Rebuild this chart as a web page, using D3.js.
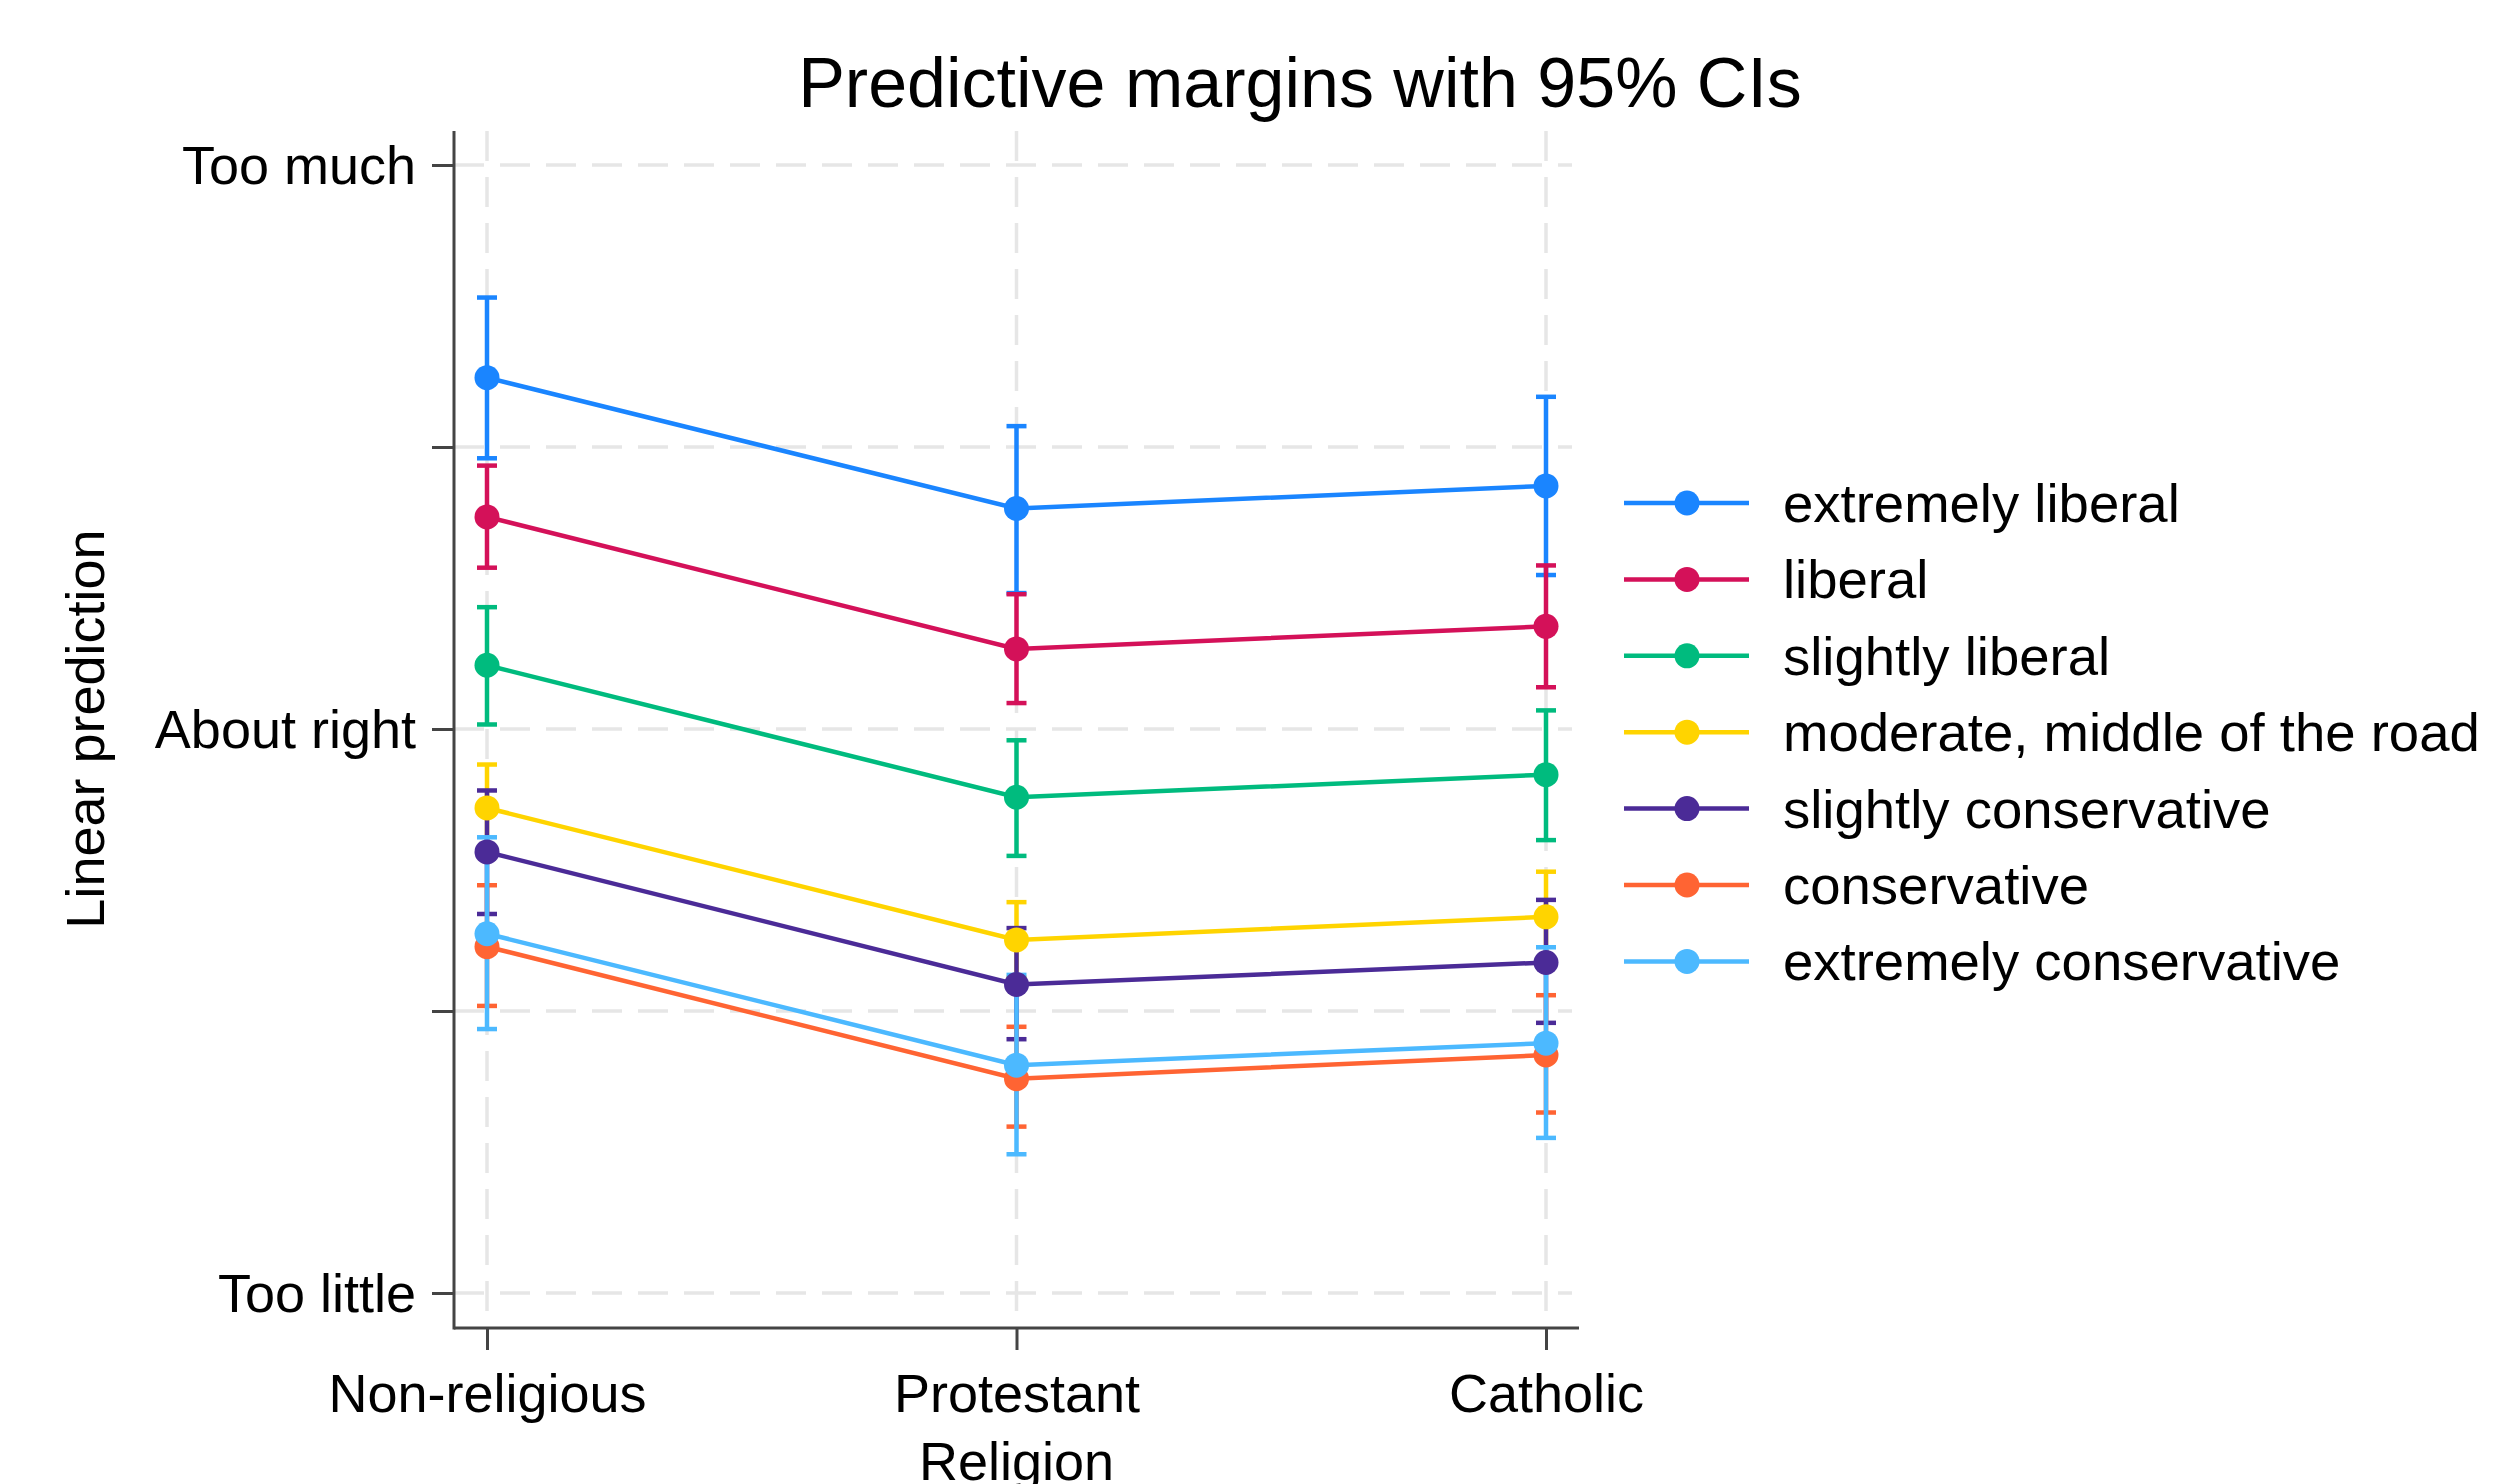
<!DOCTYPE html>
<html>
<head>
<meta charset="utf-8">
<script src="https://cdn.jsdelivr.net/npm/d3@7"></script>
<style>
  body { margin: 0; background: #fff; }
  text { font-family: "Liberation Sans", Arial, sans-serif; fill: #000; }
</style>
</head>
<body>
<div id="chart"></div>
<script>
var categories = ['Non-religious', 'Protestant', 'Catholic'];
var seriesNames = ['extremely liberal', 'liberal', 'slightly liberal', 'moderate, middle of the road',
  'slightly conservative', 'conservative', 'extremely conservative'];
var colors = ['#1a85ff', '#d41159', '#00bb7e', '#ffd400', '#4b2b97', '#ff6433', '#4cb9ff'];

// predicted margins, one row per series, one value per religion
var margins = [
  [2.623, 2.391, 2.431],
  [2.376, 2.142, 2.182],
  [2.113, 1.879, 1.919],
  [1.860, 1.626, 1.667],
  [1.782, 1.547, 1.586],
  [1.614, 1.380, 1.422],
  [1.637, 1.404, 1.443]
];
var ciLow = [
  [2.480, 2.241, 2.273],
  [2.286, 2.046, 2.074],
  [2.008, 1.775, 1.803],
  [1.784, 1.559, 1.586],
  [1.672, 1.450, 1.479],
  [1.509, 1.295, 1.320],
  [1.468, 1.246, 1.275]
];
var ciHigh = [
  [2.765, 2.537, 2.589],
  [2.467, 2.239, 2.290],
  [2.216, 1.980, 2.033],
  [1.937, 1.693, 1.747],
  [1.891, 1.647, 1.697],
  [1.723, 1.472, 1.528],
  [1.808, 1.564, 1.613]
];
var yTicks = [1, 1.5, 2, 2.5, 3];
var yTickLabels = {1: 'Too little', 2: 'About right', 3: 'Too much'};

var width = 2514, height = 1484;
var plot = {left: 454, right: 1579, top: 131, bottom: 1328};

var svg = d3.select('#chart').append('svg')
  .attr('width', width)
  .attr('height', height)
  .style('background-color', '#fff');

var x = d3.scalePoint()
  .domain(categories)
  .range([487, 1546]);

var y = d3.scaleLinear()
  .domain([1, 3])
  .range([1293, 165]);

var color = d3.scaleOrdinal()
  .domain(seriesNames)
  .range(colors);

// grid
svg.append('g').selectAll('line')
  .data(yTicks)
  .enter().append('line')
    .attr('x1', plot.left).attr('x2', 1572)
    .attr('y1', function(d) { return y(d); })
    .attr('y2', function(d) { return y(d); })
    .attr('stroke', '#e6e6e6')
    .attr('stroke-width', 3.5)
    .attr('stroke-dasharray', '30,16');

svg.append('g').selectAll('line')
  .data(categories)
  .enter().append('line')
    .attr('x1', function(d) { return x(d); })
    .attr('x2', function(d) { return x(d); })
    .attr('y1', plot.top).attr('y2', plot.bottom)
    .attr('stroke', '#e6e6e6')
    .attr('stroke-width', 3.5)
    .attr('stroke-dasharray', '30,16');

// axes
var yAxis = svg.append('g')
  .attr('transform', 'translate(' + plot.left + ',0)')
  .call(d3.axisLeft(y).tickValues(yTicks).tickSize(22).tickPadding(16)
    .tickFormat(function(d) { return yTickLabels[d] || ''; }));

var xAxis = svg.append('g')
  .attr('transform', 'translate(0,' + plot.bottom + ')')
  .call(d3.axisBottom(x).tickSize(22).tickPadding(24));

[yAxis, xAxis].forEach(function(ax) {
  ax.select('.domain').remove();
  ax.selectAll('.tick line').attr('stroke', '#444').attr('stroke-width', 3);
  ax.selectAll('.tick text').attr('font-size', '54px').attr('fill', '#000');
});
yAxis.selectAll('.tick text').attr('dy', '0.35em');
xAxis.selectAll('.tick text').attr('dy', '0.71em');

svg.append('line')
  .attr('x1', plot.left).attr('x2', plot.left)
  .attr('y1', plot.top).attr('y2', plot.bottom + 1.5)
  .attr('stroke', '#444').attr('stroke-width', 3);
svg.append('line')
  .attr('x1', plot.left).attr('x2', plot.right)
  .attr('y1', plot.bottom).attr('y2', plot.bottom)
  .attr('stroke', '#444').attr('stroke-width', 3);

// series data
var series = seriesNames.map(function(name, i) {
  return {
    name: name,
    points: categories.map(function(c, j) {
      return {cat: c, m: margins[i][j], lo: ciLow[i][j], hi: ciHigh[i][j]};
    })
  };
});

// confidence intervals first
var ci = svg.append('g').selectAll('g')
  .data(series)
  .enter().append('g')
    .attr('stroke', function(d) { return color(d.name); })
    .attr('stroke-width', 4.5);

ci.selectAll('line.bar')
  .data(function(d) { return d.points; })
  .enter().append('line')
    .attr('class', 'bar')
    .attr('x1', function(d) { return x(d.cat); })
    .attr('x2', function(d) { return x(d.cat); })
    .attr('y1', function(d) { return y(d.lo); })
    .attr('y2', function(d) { return y(d.hi); });

ci.selectAll('line.cap')
  .data(function(d) {
    var caps = [];
    d.points.forEach(function(p) { caps.push({cat: p.cat, v: p.lo}); caps.push({cat: p.cat, v: p.hi}); });
    return caps;
  })
  .enter().append('line')
    .attr('class', 'cap')
    .attr('x1', function(d) { return x(d.cat) - 10; })
    .attr('x2', function(d) { return x(d.cat) + 10; })
    .attr('y1', function(d) { return y(d.v); })
    .attr('y2', function(d) { return y(d.v); });

// lines and markers
var line = d3.line()
  .x(function(d) { return x(d.cat); })
  .y(function(d) { return y(d.m); });

var lines = svg.append('g').selectAll('g')
  .data(series)
  .enter().append('g');

lines.append('path')
  .attr('d', function(d) { return line(d.points); })
  .attr('fill', 'none')
  .attr('stroke', function(d) { return color(d.name); })
  .attr('stroke-width', 4.5);

lines.selectAll('circle')
  .data(function(d) { return d.points.map(function(p) { return {name: d.name, cat: p.cat, m: p.m}; }); })
  .enter().append('circle')
    .attr('cx', function(d) { return x(d.cat); })
    .attr('cy', function(d) { return y(d.m); })
    .attr('r', 12.5)
    .attr('fill', function(d) { return color(d.name); });

// legend
var legend = svg.append('g').selectAll('g')
  .data(seriesNames)
  .enter().append('g')
    .attr('transform', function(d, i) { return 'translate(1624,' + (503 + i * 76.4) + ')'; });

legend.append('line')
  .attr('x1', 0).attr('x2', 125)
  .attr('stroke', function(d) { return color(d); })
  .attr('stroke-width', 4.5);

legend.append('circle')
  .attr('cx', 63)
  .attr('r', 12.5)
  .attr('fill', function(d) { return color(d); });

legend.append('text')
  .attr('x', 159)
  .attr('dy', 19)
  .attr('font-size', '54.5px')
  .text(function(d) { return d; });

// titles
svg.append('text')
  .attr('x', 1300).attr('y', 107)
  .attr('text-anchor', 'middle')
  .attr('font-size', '70px')
  .text('Predictive margins with 95% CIs');

svg.append('text')
  .attr('transform', 'translate(104,729) rotate(-90)')
  .attr('text-anchor', 'middle')
  .attr('font-size', '54px')
  .text('Linear prediction');

svg.append('text')
  .attr('x', x('Protestant')).attr('y', 1480)
  .attr('text-anchor', 'middle')
  .attr('font-size', '54px')
  .text('Religion');
</script>
</body>
</html>
